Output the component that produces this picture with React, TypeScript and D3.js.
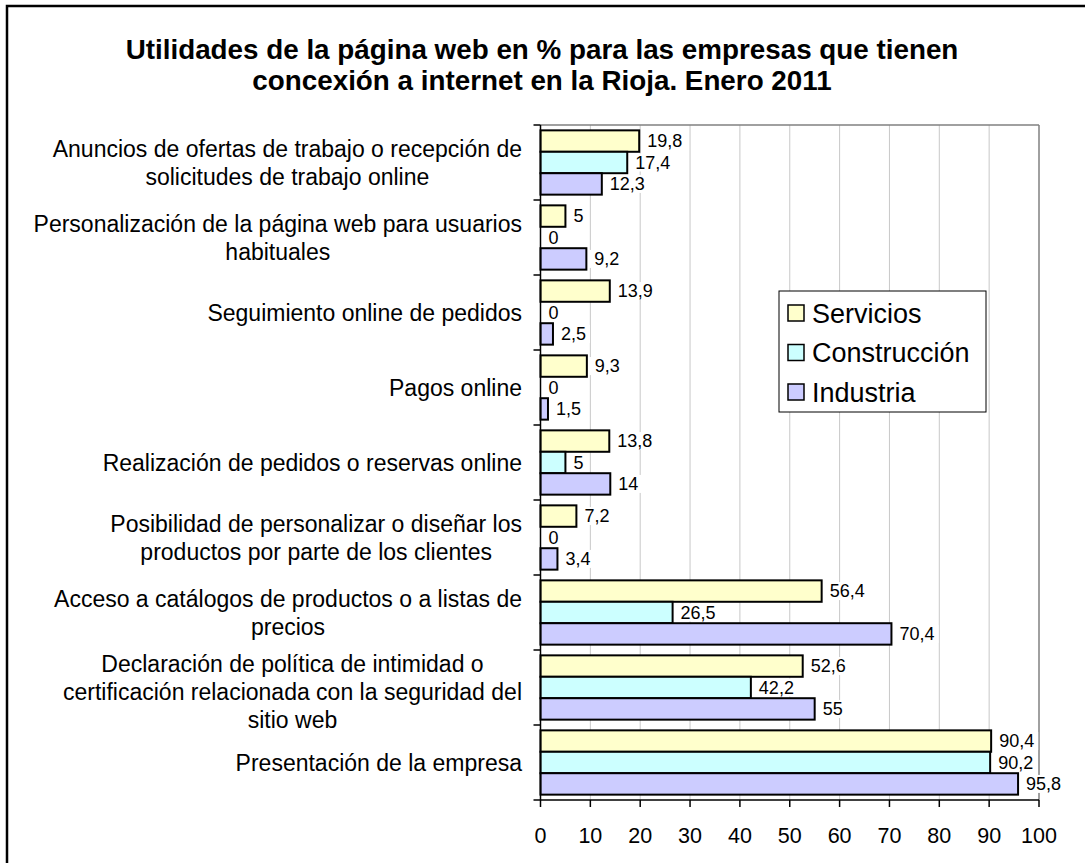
import React from "react";
import * as d3 from "d3";

const TITLE_LINES = [
  "Utilidades de la página web en % para las empresas que tienen",
  "concexión a internet en la Rioja. Enero 2011",
];

const CATEGORIES = [
  "Anuncios de ofertas de trabajo o recepción de\nsolicitudes de trabajo online",
  "Personalización de la página web para usuarios\nhabituales",
  "Seguimiento online de pedidos",
  "Pagos online",
  "Realización de pedidos o reservas online",
  "Posibilidad de personalizar o diseñar los\nproductos por parte de los clientes",
  "Acceso a catálogos de productos o a listas de\nprecios",
  "Declaración de política de intimidad o\ncertificación relacionada con la seguridad del\nsitio web",
  "Presentación de la empresa",
];

const SERIES = ["Servicios", "Construcción", "Industria"];
const SERIES_COLORS = ["#FFFFCC", "#CCFFFF", "#CCCCFF"];

const SERVICIOS = [19.8, 5, 13.9, 9.3, 13.8, 7.2, 56.4, 52.6, 90.4];
const CONSTRUCCION = [17.4, 0, 0, 0, 5, 0, 26.5, 42.2, 90.2];
const INDUSTRIA = [12.3, 9.2, 2.5, 1.5, 14, 3.4, 70.4, 55, 95.8];

const X_TICKS = [0, 10, 20, 30, 40, 50, 60, 70, 80, 90, 100];

const FONT = "'Liberation Sans', Arial, Helvetica, sans-serif";

let measureCtx: CanvasRenderingContext2D | null = null;
function measure(text: string, size: number, weight = "normal"): number {
  if (!measureCtx) {
    const c = document.createElement("canvas");
    measureCtx = c.getContext("2d");
  }
  if (!measureCtx) return text.length * size * 0.5;
  measureCtx.font = `${weight} ${size}px ${FONT}`;
  return measureCtx.measureText(text).width;
}

export default function App() {
  const W = 1085;
  const H = 863;
  const plotLeft = 540.5;
  const plotRight = 1039;
  const plotTop = 125;
  const plotBottom = 800;

  const x = d3.scaleLinear().domain([0, 100]).range([plotLeft, plotRight]);
  const y = d3
    .scaleBand<string>()
    .domain(CATEGORIES)
    .range([plotTop, plotBottom])
    .paddingInner(0.5 / 3.5)
    .paddingOuter(0.25 / 3.5);
  const ys = d3.scaleBand<string>().domain(SERIES).range([0, y.bandwidth()]);

  const values = [SERVICIOS, CONSTRUCCION, INDUSTRIA];
  const step = y.step();

  const catFont = 23;
  const catLineH = 28;
  const valFont = 18;
  const tickFont = 21.5;
  const legendFont = 27;
  const titleFont = 27.8;

  const fmt = (v: number) => String(v).replace(".", ",");

  return (
    <svg
      width={W}
      height={H}
      style={{ position: "absolute", left: 0, top: 0, background: "#fff" }}
      fontFamily={FONT}
    >
      <rect x={0} y={0} width={W} height={H} fill="#fff" />
      {/* outer frame */}
      <rect x={7} y={6} width={W + 20} height={H + 20} fill="none" stroke="#000" strokeWidth={2.5} />

      {/* title */}
      {TITLE_LINES.map((t, i) => (
        <text
          key={i}
          x={542}
          y={59 + i * 31}
          textAnchor="middle"
          fontSize={titleFont}
          fontWeight="bold"
          fill="#000"
        >
          {t}
        </text>
      ))}

      {/* gridlines */}
      {X_TICKS.filter((t) => t > 0 && t < 100).map((t) => (
        <line key={t} x1={x(t)} x2={x(t)} y1={plotTop} y2={plotBottom} stroke="#c8c8c8" strokeWidth={1} />
      ))}
      {/* plot border top/right */}
      <line x1={plotLeft} x2={plotRight} y1={plotTop} y2={plotTop} stroke="#808080" strokeWidth={1.5} />
      <line x1={plotRight} x2={plotRight} y1={plotTop} y2={plotBottom} stroke="#808080" strokeWidth={1.5} />

      {/* bars */}
      {CATEGORIES.map((c, ci) =>
        SERIES.map((s, si) => {
          const v = values[si][ci];
          if (v <= 0) return null;
          return (
            <rect
              key={`${ci}-${si}`}
              x={x(0)}
              y={(y(c) as number) + (ys(s) as number)}
              width={x(v) - x(0)}
              height={ys.bandwidth()}
              fill={SERIES_COLORS[si]}
              stroke="#000"
              strokeWidth={2}
            />
          );
        })
      )}

      {/* value labels */}
      {CATEGORIES.map((c, ci) =>
        SERIES.map((s, si) => {
          const v = values[si][ci];
          const label = fmt(v);
          const cy = (y(c) as number) + (ys(s) as number) + ys.bandwidth() / 2;
          const tx = x(v) + 8;
          const tw = measure(label, valFont);
          return (
            <g key={`l-${ci}-${si}`}>
              <rect x={x(v) + 2} y={cy - 9} width={tw + 10} height={18} fill="#fff" />
              <text x={tx} y={cy + 6.3} fontSize={valFont} fill="#000">
                {label}
              </text>
            </g>
          );
        })
      )}

      {/* left axis */}
      <line x1={plotLeft} x2={plotLeft} y1={plotTop} y2={plotBottom} stroke="#000" strokeWidth={1.5} />
      {d3.range(CATEGORIES.length + 1).map((i) => (
        <line
          key={`yt-${i}`}
          x1={plotLeft - 7}
          x2={plotLeft}
          y1={plotTop + i * step}
          y2={plotTop + i * step}
          stroke="#000"
          strokeWidth={1.5}
        />
      ))}
      {/* category labels */}
      {CATEGORIES.map((c) => {
        const lines = c.split("\n");
        const maxW = Math.max(...lines.map((l) => measure(l, catFont)));
        const cx = 522 - maxW / 2;
        const center = (y(c) as number) - (y.step() - y.bandwidth()) / 2 + step / 2;
        const extra = lines.length > 2 ? 4 : 0;
        return (
          <g key={`c-${c}`}>
            {lines.map((l, li) => (
              <text
                key={li}
                x={cx}
                y={center + (li - (lines.length - 1) / 2) * catLineH + 8.5 + extra}
                textAnchor="middle"
                fontSize={catFont}
                fill="#000"
              >
                {l}
              </text>
            ))}
          </g>
        );
      })}

      {/* bottom axis */}
      <line x1={plotLeft} x2={plotRight} y1={plotBottom} y2={plotBottom} stroke="#000" strokeWidth={1.5} />
      {X_TICKS.map((t) => (
        <g key={`xt-${t}`}>
          <line x1={x(t)} x2={x(t)} y1={plotBottom} y2={plotBottom + 7} stroke="#000" strokeWidth={1.5} />
          <text x={x(t)} y={843} textAnchor="middle" fontSize={tickFont} fill="#000">
            {t}
          </text>
        </g>
      ))}

      {/* legend */}
      <rect x={779} y={291} width={207} height={121} fill="#fff" stroke="#000" strokeWidth={1} />
      {SERIES.map((s, i) => {
        const cy = 313 + i * 39.5;
        return (
          <g key={`lg-${s}`}>
            <rect x={788} y={cy - 8} width={16} height={16} fill={SERIES_COLORS[i]} stroke="#000" strokeWidth={1.5} />
            <text x={812} y={cy + 9.5} fontSize={legendFont} fill="#000">
              {s}
            </text>
          </g>
        );
      })}
    </svg>
  );
}
